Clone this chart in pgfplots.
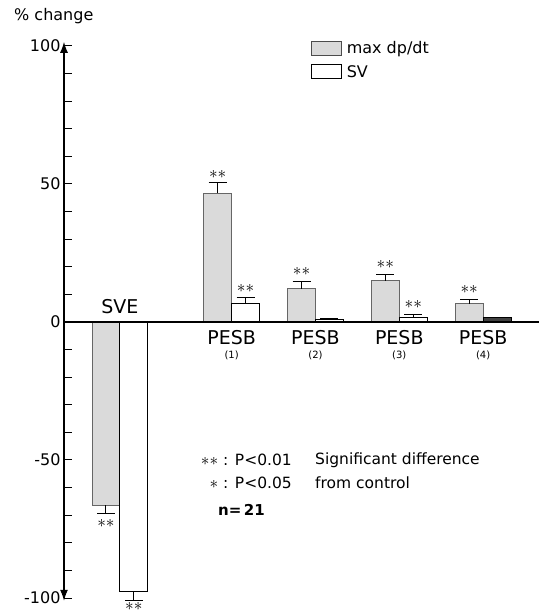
\documentclass[border=0pt]{standalone}
\usepackage{fontspec}
\setmainfont{DejaVu Sans}
\usepackage{pgfplots}
\pgfplotsset{compat=1.18}
\usetikzlibrary{arrows.meta}
\definecolor{stip}{RGB}{218,218,218}
\newcommand{\fs}[1]{\fontsize{#1}{#1}\selectfont}
\pgfplotsset{myerr/.style={error bar style={line width=1pt, black},
  error mark options={rotate=90, mark size=9pt, line width=1pt, black}}}
\begin{document}
\begin{tikzpicture}[x=1pt,y=1pt]
\useasboundingbox (0,0) rectangle (540,611);
\begin{axis}[
 at={(64pt,13pt)}, anchor=south west,
 scale only axis, width=475pt, height=552pt,
 xmin=-2, xmax=15, ymin=-100, ymax=100,
 axis x line=none, axis y line=left,
 y axis line style={draw=none},
 ytick={-100,-50,0,50,100},
 yticklabels={-100,-50,0,50,100},
 minor ytick={-90,-80,-70,-60,-40,-30,-20,-10,10,20,30,40,60,70,80,90},
 tick align=inside,
 major tick length=8pt, minor tick length=8pt,
 every tick/.style={line width=1pt, black},
 yticklabel style={font=\fs{16}, text=black},
 clip=false,
 legend style={draw=none, fill=none, at={(0.52,1.012)}, anchor=north west,
   font=\fs{16}, row sep=6pt, inner sep=0pt, cells={anchor=west}},
]
% PESB groups
\addplot[ybar, bar width=1, bar shift=0, fill=stip, draw=black!60, line width=0.8pt,
  legend image code/.code={\draw[fill=stip, draw=black!70, line width=0.8pt] (0pt,-7pt) rectangle (30pt,7pt);},
  error bars/.cd, y dir=plus, y explicit, /pgfplots/myerr]
 coordinates {(3.5,46.7) +- (0,3.7) (6.5,12.0) +- (0,2.6) (9.5,15.0) +- (0,2.2) (12.5,6.6) +- (0,1.4)};
\addlegendentry{\,max dp/dt}
\addplot[ybar, bar width=1, bar shift=0, fill=white, draw=black, line width=0.9pt,
  legend image code/.code={\draw[fill=white, draw=black, line width=0.9pt] (0pt,-7pt) rectangle (30pt,7pt);},
  error bars/.cd, y dir=plus, y explicit, /pgfplots/myerr]
 coordinates {(4.5,6.6) +- (0,2.2) (7.5,0.8) +- (0,0.4) (10.5,1.6) +- (0,1.2)};
\addlegendentry{\,SV}
\addplot[ybar, bar width=1, bar shift=0, fill=black!75, draw=black, line width=0.9pt, forget plot,
  error bars/.cd, y dir=plus, y explicit, /pgfplots/myerr]
 coordinates {(13.5,1.5) +- (0,0.3)};
% SVE
\addplot[ybar, bar width=1, bar shift=0, fill=stip, draw=black!60, line width=0.8pt, forget plot,
  error bars/.cd, y dir=minus, y explicit, /pgfplots/myerr]
 coordinates {(-0.5,-66.4) +- (0,2.9)};
\addplot[ybar, bar width=1, bar shift=0, fill=white, draw=black, line width=0.9pt, forget plot,
  error bars/.cd, y dir=minus, y explicit, /pgfplots/myerr]
 coordinates {(0.5,-97.8) +- (0,3.2)};
% axes lines
\draw[line width=1.2pt] (axis cs:-2,0) -- (axis cs:15,0);
\draw[line width=1.1pt, {Latex[length=11pt,width=8pt]}-{Latex[length=11pt,width=8pt]}]
  (axis cs:-2,-101) -- (axis cs:-2,101.5);
% category labels
\node[font=\fs{19}] at (axis cs:0,5.5) {SVE};
\node[font=\fs{19}] at (axis cs:4,-5.6) {PESB};
\node[font=\fs{19}] at (axis cs:7,-5.6) {PESB};
\node[font=\fs{19}] at (axis cs:10,-5.6) {PESB};
\node[font=\fs{19}] at (axis cs:13,-5.6) {PESB};
\node[font=\fs{10}] at (axis cs:4,-12) {(1)};
\node[font=\fs{10}] at (axis cs:7,-12) {(2)};
\node[font=\fs{10}] at (axis cs:10,-12) {(3)};
\node[font=\fs{10}] at (axis cs:13,-12) {(4)};
% significance stars
\node[font=\fs{18}, inner sep=0pt] at (axis cs:3.5,53.6) {$\ast\ast$};
\node[font=\fs{18}, inner sep=0pt] at (axis cs:4.5,12) {$\ast\ast$};
\node[font=\fs{18}, inner sep=0pt] at (axis cs:6.5,18.2) {$\ast\ast$};
\node[font=\fs{18}, inner sep=0pt] at (axis cs:9.5,20.8) {$\ast\ast$};
\node[font=\fs{18}, inner sep=0pt] at (axis cs:10.5,6.2) {$\ast\ast$};
\node[font=\fs{18}, inner sep=0pt] at (axis cs:12.5,11.7) {$\ast\ast$};
\node[font=\fs{18}, inner sep=0pt] at (axis cs:-0.5,-73) {$\ast\ast$};
\node[font=\fs{18}, inner sep=0pt] at (axis cs:0.5,-103.2) {$\ast\ast$};
\end{axis}
\node[anchor=west, font=\fs{16}, inner sep=0pt] at (14,595) {\% change};
\node[anchor=east, font=\fs{15.5}, inner sep=0pt] at (292,151) {{\fs{18}$\ast\ast$} : P<0.01};
\node[anchor=east, font=\fs{15.5}, inner sep=0pt] at (292,128) {{\fs{18}$\ast$} : P<0.05};
\node[anchor=west, font=\fs{15.5}, inner sep=0pt] at (315,151) {Significant difference};
\node[anchor=west, font=\fs{15.5}, inner sep=0pt] at (315,128) {from control};
\node[anchor=west, font=\fs{15}\bfseries, inner sep=0pt] at (218,101) {n=\,21};
\end{tikzpicture}
\end{document}
